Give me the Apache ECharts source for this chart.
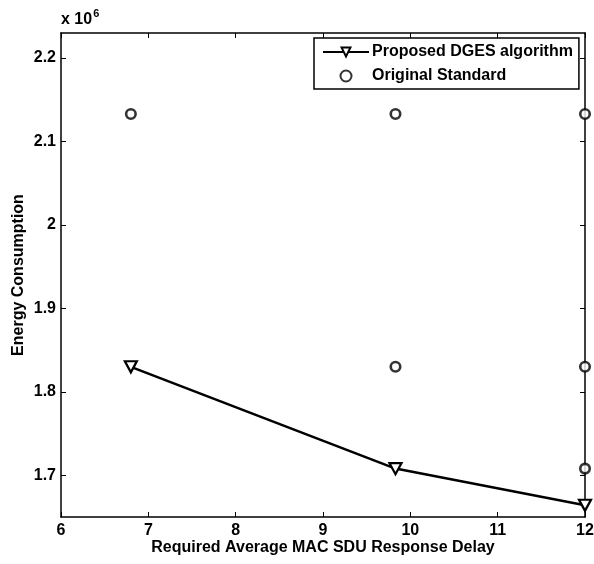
<!DOCTYPE html>
<html>
<head>
<meta charset="utf-8" />
<title>Energy Consumption</title>
<script type="text/javascript" src="https://cdn.jsdelivr.net/npm/echarts@6/dist/echarts.min.js"></script>
<style>
    html, body { margin: 0; padding: 0; background: #fff; }
    #main { width: 594px; height: 564px; }
</style>
</head>
<body>
<div id="main"></div>
<script type="text/javascript">
    // data (y in units of 10^6)
    var dgesX = [6.8, 9.83, 12];
    var dgesY = [1.830, 1.708, 1.664];
    var stdX = [6.8, 9.83, 12, 9.83, 12, 12];
    var stdY = [2.133, 2.133, 2.133, 1.830, 1.830, 1.708];
    var yTicks = [1.7, 1.8, 1.9, 2, 2.1, 2.2];

    var font = 'Liberation Sans, Arial, sans-serif';
    var downTri = 'path://M0,0 L10,0 L5,9 Z';

    function pairs(xs, ys) {
        var out = [];
        for (var i = 0; i < xs.length; i++) out.push([xs[i], ys[i]]);
        return out;
    }

    var myChart = echarts.init(document.getElementById('main'));

    var txt = { color: '#000', fontFamily: font, fontWeight: 'bold', fontSize: 16 };

    var baseX = {
        type: 'value', min: 6, max: 12, interval: 1,
        axisLine: { show: true, onZero: false, lineStyle: { color: '#000', width: 1.5 } },
        axisTick: { show: true, inside: true, length: 5, lineStyle: { color: '#000' } },
        splitLine: { show: false }
    };
    var baseY = {
        type: 'value', min: 1.65, max: 2.23,
        axisLine: { show: true, onZero: false, lineStyle: { color: '#000', width: 1.5 } },
        axisTick: { show: true, inside: true, length: 5, customValues: yTicks, lineStyle: { color: '#000' } },
        splitLine: { show: false }
    };

    myChart.setOption({
        animation: false,
        backgroundColor: '#fff',
        grid: { left: 61, right: 9, top: 33, bottom: 47, containLabel: false, outerBoundsMode: 'none' },
        xAxis: [
            Object.assign({}, baseX, {
                position: 'bottom',
                name: 'Required Average MAC SDU Response Delay',
                nameLocation: 'middle', nameGap: 23, nameMoveOverlap: false,
                nameTextStyle: txt,
                axisLabel: Object.assign({ margin: 6 }, txt)
            }),
            Object.assign({}, baseX, { position: 'top', axisLabel: { show: false } })
        ],
        yAxis: [
            Object.assign({}, baseY, {
                position: 'left',
                name: 'Energy Consumption',
                nameLocation: 'middle', nameGap: 34, nameMoveOverlap: false,
                nameTextStyle: txt,
                axisLabel: Object.assign({
                    margin: 5,
                    customValues: yTicks,
                    formatter: function (v) { return String(Math.round(v * 10) / 10); }
                }, txt)
            }),
            Object.assign({}, baseY, { position: 'right', axisLabel: { show: false } })
        ],
        legend: {
            left: 314, top: 38, width: 266,
            orient: 'vertical',
            backgroundColor: '#fff',
            borderColor: '#000', borderWidth: 1.5,
            padding: [6, 6, 5, 8],
            itemGap: 8,
            itemWidth: 46, itemHeight: 11,
            textStyle: Object.assign({ padding: [0, 0, 0, -2] }, txt),
            data: ['Proposed DGES algorithm', 'Original Standard']
        },
        graphic: [{
            type: 'text', left: 61, top: 8,
            style: {
                text: '{b|x 10}{s|6}',
                rich: {
                    b: { fill: '#000', font: 'bold 16px ' + font, verticalAlign: 'bottom' },
                    s: { fill: '#000', font: 'bold 11px ' + font, verticalAlign: 'top', padding: [0, 0, 9, 1] }
                }
            }
        }],
        series: [
            {
                name: 'Proposed DGES algorithm',
                type: 'line',
                data: pairs(dgesX, dgesY),
                symbol: downTri,
                symbolSize: [12, 11],
                lineStyle: { color: '#000', width: 2.5 },
                itemStyle: { color: '#fff', borderColor: '#000', borderWidth: 2.2 },
                z: 3
            },
            {
                name: 'Original Standard',
                type: 'scatter',
                data: pairs(stdX, stdY),
                symbol: 'circle',
                symbolSize: 9.5,
                itemStyle: { color: '#fff', borderColor: '#000', borderWidth: 2.6 },
                z: 2
            }
        ]
    });
</script>
</body>
</html>
